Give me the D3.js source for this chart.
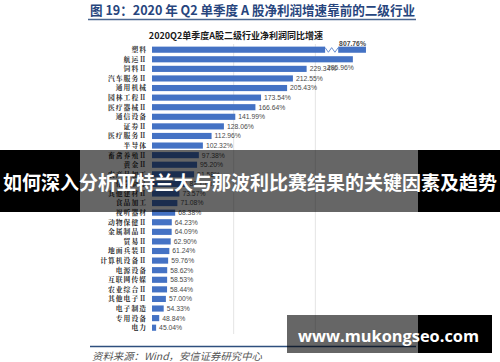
<!DOCTYPE html>
<html>
<head>
<meta charset="utf-8">
<script src="https://cdnjs.cloudflare.com/ajax/libs/d3/7.8.5/d3.min.js"></script>
<style>
  body { margin: 0; background: #ffffff; }
  svg { display: block; }
</style>
</head>
<body>
<div id="chart"></div>
<script>
// 行业名称（从上到下）
var categories = ["塑料", "航运Ⅱ", "饲料Ⅱ", "汽车服务Ⅱ", "通用机械", "园林工程Ⅱ", "医疗器械Ⅱ",
    "通信设备", "证券Ⅱ", "医疗服务Ⅱ", "半导体", "畜禽养殖Ⅱ", "黄金Ⅱ", "农产品加工", "化学制品",
    "其他建材Ⅱ", "食品加工", "视听器材", "动物保健Ⅱ", "金属制品Ⅱ", "贸易Ⅱ", "地面兵装Ⅱ",
    "计算机设备Ⅱ", "电源设备", "互联网传媒", "农业综合Ⅱ", "其他电子Ⅱ", "电子制造", "专用设备", "电力"];

// 净利润同比增速 (%)
var growth = [807.76, 285.96, 229.34, 212.55, 205.43, 173.54, 166.64, 141.99, 128.06, 112.96,
    102.32, 97.38, 95.20, 91.58, 82.15, 73.57, 71.08, 68.38, 64.23, 64.09, 62.90, 61.24,
    59.76, 58.62, 58.53, 58.44, 57.00, 54.33, 48.84, 45.04];

var gridTicks = [140, 240];
// 塑料的截断轴：断开区间与显示终点
var breakLow = 252, breakHigh = 268, breakEnd = 302;

var w = 500, h = 362;
var blue = "#4472c4";

var svg = d3.select("#chart")
    .append("svg")
    .attr("width", w)
    .attr("height", h);

var x = d3.scaleLinear().domain([40, 340]).range([152, 397]);
var y = d3.scaleBand().domain(categories).range([44.9, 332.5]).paddingInner(0.36).paddingOuter(0.18);

/* 报告标题 */
svg.append("text")
    .text("图 19：2020 年 Q2 单季度 A 股净利润增速靠前的二级行业")
    .attr("x", 90)
    .attr("y", 14.5)
    .attr("textLength", 325)
    .attr("lengthAdjust", "spacingAndGlyphs")
    .style("font-family", "'Noto Sans CJK SC', sans-serif")
    .style("font-weight", "bold")
    .style("font-size", "13px")
    .style("fill", "#27457d");

svg.append("line")
    .attr("x1", 88).attr("x2", 416)
    .attr("y1", 19.5).attr("y2", 19.5)
    .style("stroke", "#4a6690")
    .style("stroke-width", 1.5);

/* 图表标题 */
svg.append("text")
    .text("2020Q2单季度A股二级行业净利润同比增速")
    .attr("x", 236)
    .attr("y", 38.5)
    .attr("text-anchor", "middle")
    .style("font-family", "'Noto Sans CJK SC', sans-serif")
    .style("font-weight", "bold")
    .style("font-size", "9px")
    .style("fill", "#1a1a1a");

/* 网格线 */
svg.selectAll("line.grid")
    .data(gridTicks)
    .enter()
    .append("line")
    .attr("class", "grid")
    .attr("x1", function (d) { return x(d); })
    .attr("x2", function (d) { return x(d); })
    .attr("y1", 44)
    .attr("y2", 334)
    .style("stroke", "#e4e4e4")
    .style("stroke-width", 1);

/* 柱子 */
function barEnd(v) { return v > breakEnd ? breakEnd : v; }

svg.selectAll("rect.bar")
    .data(growth)
    .enter()
    .append("rect")
    .attr("class", "bar")
    .attr("x", x(40))
    .attr("y", function (d, i) { return y(categories[i]); })
    .attr("width", function (d) { return x(barEnd(d)) - x(40); })
    .attr("height", y.bandwidth())
    .style("fill", blue);

// 截断处
var bigIdx = growth.findIndex(function (d) { return d > breakEnd; });
var by = y(categories[bigIdx]);
var bh = y.bandwidth();
svg.append("rect")
    .attr("x", x(breakLow))
    .attr("y", by - 1)
    .attr("width", x(breakHigh) - x(breakLow))
    .attr("height", bh + 2)
    .style("fill", "#ffffff");

var zig = [];
var steps = 4;
for (var k = 0; k <= steps; k++) {
    zig.push([x(breakLow) + (x(breakHigh) - x(breakLow)) * k / steps, k % 2 === 0 ? by + 1 : by + bh - 0.5]);
}
svg.append("path")
    .attr("d", d3.line()(zig))
    .style("fill", "none")
    .style("stroke", blue)
    .style("stroke-width", 0.8);

/* 行业标签 */
svg.selectAll("text.cat")
    .data(categories)
    .enter()
    .append("text")
    .attr("class", "cat")
    .text(function (d) { return d; })
    .attr("x", 147)
    .attr("y", function (d) { return y(d) + y.bandwidth() / 2; })
    .attr("dy", "0.35em")
    .attr("text-anchor", "end")
    .style("font-family", "'Noto Serif CJK SC', 'Noto Sans CJK SC', serif")
    .style("font-weight", "bold")
    .style("font-size", "6.8px")
    .style("letter-spacing", "1px")
    .style("fill", "#2a2a2a");

/* 数值标签 */
svg.selectAll("text.val")
    .data(growth)
    .enter()
    .append("text")
    .attr("class", "val")
    .text(function (d) { return d.toFixed(2) + "%"; })
    .attr("x", function (d, i) {
        if (d > breakEnd) return x(breakEnd);
        if (i === 1) return x(d) + 1;
        return x(d) + 3;
    })
    .attr("y", function (d, i) {
        var cy = y(categories[i]) + y.bandwidth() / 2;
        if (d > breakEnd) return cy - 6.5;
        if (i === 1) return cy + 8;
        return cy;
    })
    .attr("dy", "0.35em")
    .attr("text-anchor", function (d, i) { return (d > breakEnd || i === 1) ? "end" : "start"; })
    .style("font-family", "'Liberation Sans', Arial, sans-serif")
    .style("font-weight", function (d) { return d > breakEnd ? "bold" : "normal"; })
    .style("font-size", "6.8px")
    .style("fill", "#4a4a4a");

/* 底部来源 */
svg.append("line")
    .attr("x1", 90).attr("x2", 416)
    .attr("y1", 346.5).attr("y2", 346.5)
    .style("stroke", "#2e4f7e")
    .style("stroke-width", 1.3);

svg.append("text")
    .text("资料来源：Wind，安信证券研究中心")
    .attr("x", 92)
    .attr("y", 360)
    .attr("textLength", 170)
    .attr("lengthAdjust", "spacingAndGlyphs")
    .style("font-family", "'Noto Sans CJK SC', sans-serif")
    .style("font-style", "italic")
    .style("font-size", "10px")
    .style("fill", "#555555");

/* 横幅 */
svg.append("rect").attr("x", 0).attr("y", 150).attr("width", 80).attr("height", 62).style("fill", "#000");
svg.append("rect").attr("x", 80).attr("y", 150).attr("width", 338).attr("height", 62).style("fill", "#000").style("opacity", 0.6);
svg.append("rect").attr("x", 418).attr("y", 150).attr("width", 82).attr("height", 62).style("fill", "#000");

svg.append("text")
    .text("如何深入分析亚特兰大与那波利比赛结果的关键因素及趋势")
    .attr("x", 250)
    .attr("y", 183)
    .attr("dy", "0.36em")
    .attr("text-anchor", "middle")
    .attr("textLength", 494)
    .attr("lengthAdjust", "spacingAndGlyphs")
    .style("font-family", "'Noto Sans CJK SC', sans-serif")
    .style("font-weight", "bold")
    .style("font-size", "19px")
    .style("fill", "#ffffff");

/* 水印 */
svg.append("rect").attr("x", 287).attr("y", 315).attr("width", 131).attr("height", 38).style("fill", "#000").style("opacity", 0.6);
svg.append("rect").attr("x", 418).attr("y", 315).attr("width", 74).attr("height", 38).style("fill", "#000");

svg.append("text")
    .text("www.mukongseo.com")
    .attr("x", 298)
    .attr("y", 336.5)
    .attr("dy", "0.36em")
    .attr("textLength", 181)
    .attr("lengthAdjust", "spacingAndGlyphs")
    .style("font-family", "'Open Sans', 'DejaVu Sans', sans-serif")
    .style("font-weight", "bold")
    .style("font-size", "16px")
    .style("fill", "#ffffff");
</script>
</body>
</html>
